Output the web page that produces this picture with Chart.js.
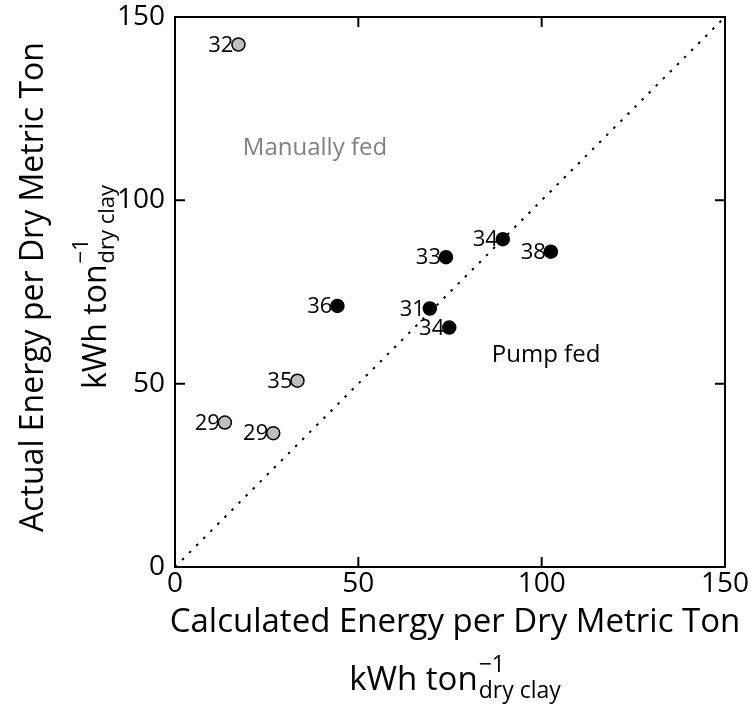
<!DOCTYPE html>
<html>
<head>
<meta charset="utf-8">
<script src="https://cdn.jsdelivr.net/npm/chart.js@4.4.1/dist/chart.umd.min.js"></script>
<style>
  html, body { margin: 0; padding: 0; background: #fff; }
  #wrap { width: 751px; height: 710px; }
</style>
</head>
<body>
<div id="wrap"><canvas id="grafico"></canvas></div>
<script>
// datos
const manualX = [17.3, 13.6, 26.8, 33.4];
const manualY = [142.5, 39.4, 36.5, 50.8];
const manualLabels = ["32", "29", "29", "35"];

const pumpX = [44.3, 69.5, 74.8, 73.9, 89.4, 102.5];
const pumpY = [71.2, 70.5, 65.3, 84.5, 89.4, 86.0];
const pumpLabels = ["36", "31", "34", "33", "34", "38"];

const axisTicks = [0, 50, 100, 150];
const parityLine = [0, 150];

const FONT = "'Open Sans', sans-serif";

// puntos {x,y}
const manualPts = manualX.map((x, i) => ({ x: x, y: manualY[i] }));
const pumpPts = pumpX.map((x, i) => ({ x: x, y: pumpY[i] }));
const diagPts = parityLine.map(v => ({ x: v, y: v }));

// texto con superindice y subindice: kWh ton^-1_dry clay
function drawUnit(ctx, cx, base, size) {
    const small = Math.round(size * 0.7);
    const main = "kWh ton";
    ctx.font = size + "px " + FONT;
    const wMain = ctx.measureText(main).width;
    ctx.font = small + "px " + FONT;
    const wSup = ctx.measureText("\u22121").width;
    const wSub = ctx.measureText("dry clay").width;
    const total = wMain + 1 + Math.max(wSup, wSub);
    let x = cx - total / 2;
    ctx.textAlign = "left";
    ctx.textBaseline = "alphabetic";
    ctx.font = size + "px " + FONT;
    ctx.fillText(main, x, base);
    x += wMain + 1;
    ctx.font = small + "px " + FONT;
    ctx.fillText("\u22121", x, base - 18);
    ctx.fillText("dry clay", x, base + 8);
}

const decoPlugin = {
    id: "deco",
    afterDatasetsDraw(chart) {
        const ctx = chart.ctx;
        const sx = chart.scales.x, sy = chart.scales.y;
        const a = chart.chartArea;
        ctx.save();

        // marco y ticks hacia adentro
        ctx.strokeStyle = "#000";
        ctx.lineWidth = 2;
        ctx.strokeRect(a.left, a.top, a.right - a.left, a.bottom - a.top);
        ctx.beginPath();
        axisTicks.forEach(v => {
            const px = sx.getPixelForValue(v);
            ctx.moveTo(px, a.bottom); ctx.lineTo(px, a.bottom - 10);
            ctx.moveTo(px, a.top); ctx.lineTo(px, a.top + 10);
            const py = sy.getPixelForValue(v);
            ctx.moveTo(a.left, py); ctx.lineTo(a.left + 10, py);
            ctx.moveTo(a.right, py); ctx.lineTo(a.right - 10, py);
        });
        ctx.stroke();

        // etiquetas de los puntos
        ctx.fillStyle = "#000";
        ctx.font = "22px " + FONT;
        ctx.textAlign = "right";
        ctx.textBaseline = "middle";
        manualPts.forEach((p, i) => {
            ctx.fillText(manualLabels[i], sx.getPixelForValue(p.x) - 5, sy.getPixelForValue(p.y) + 1);
        });
        pumpPts.forEach((p, i) => {
            ctx.fillText(pumpLabels[i], sx.getPixelForValue(p.x) - 5, sy.getPixelForValue(p.y) + 1);
        });

        // anotaciones
        ctx.textAlign = "left";
        ctx.font = "24px " + FONT;
        ctx.fillStyle = "#808080";
        ctx.fillText("Manually fed", sx.getPixelForValue(18.5), sy.getPixelForValue(114.3));
        ctx.fillStyle = "#000";
        ctx.fillText("Pump fed", sx.getPixelForValue(86.4), sy.getPixelForValue(57.8));

        // titulos de ejes
        const cxm = (a.left + a.right) / 2 + 5;
        const cym = (a.top + a.bottom) / 2 - 5;
        ctx.textAlign = "center";
        ctx.textBaseline = "alphabetic";
        ctx.font = "33px " + FONT;
        ctx.fillText("Calculated Energy per Dry Metric Ton", cxm, 632);
        drawUnit(ctx, cxm, 690, 33);

        ctx.translate(0, cym);
        ctx.rotate(-Math.PI / 2);
        ctx.textAlign = "center";
        ctx.font = "32px " + FONT;
        ctx.fillText("Actual Energy per Dry Metric Ton", 0, 43);
        drawUnit(ctx, 0, 106, 32);
        ctx.restore();
    }
};

const ctxG = document.getElementById("grafico").getContext("2d");
new Chart(ctxG, {
    type: "scatter",
    data: {
        datasets: [
            { label: "Pump fed", data: pumpPts, backgroundColor: "#000", borderColor: "#000", borderWidth: 1.5, pointRadius: 6.5 },
            { label: "Manually fed", data: manualPts, backgroundColor: "#bfbfbf", borderColor: "#000", borderWidth: 1.5, pointRadius: 6.5 },
            { label: "1:1", data: diagPts, showLine: true, borderColor: "#000", borderWidth: 2, borderDash: [2.5, 7.5], pointRadius: 0, fill: false }
        ]
    },
    options: {
        responsive: true,
        maintainAspectRatio: false,
        animation: false,
        layout: { padding: { left: 0, right: 26, top: 17, bottom: 0 } },
        plugins: { legend: { display: false }, tooltip: { enabled: false } },
        scales: {
            x: {
                type: "linear", min: 0, max: 150,
                afterFit: s => { s.height = 143; s.paddingLeft = 0; s.paddingRight = 0; },
                afterBuildTicks: s => { s.ticks = axisTicks.map(v => ({ value: v })); },
                grid: { display: false, drawTicks: false },
                border: { display: false },
                ticks: { color: "#000", font: { family: FONT, size: 28 }, padding: 0, maxRotation: 0 }
            },
            y: {
                type: "linear", min: 0, max: 150,
                afterFit: s => { s.width = 175; s.paddingTop = 0; s.paddingBottom = 0; },
                afterBuildTicks: s => { s.ticks = axisTicks.map(v => ({ value: v })); },
                grid: { display: false, drawTicks: false },
                border: { display: false },
                ticks: { color: "#000", font: { family: FONT, size: 28 }, padding: 10 }
            }
        }
    },
    plugins: [decoPlugin]
});
</script>
</body>
</html>
